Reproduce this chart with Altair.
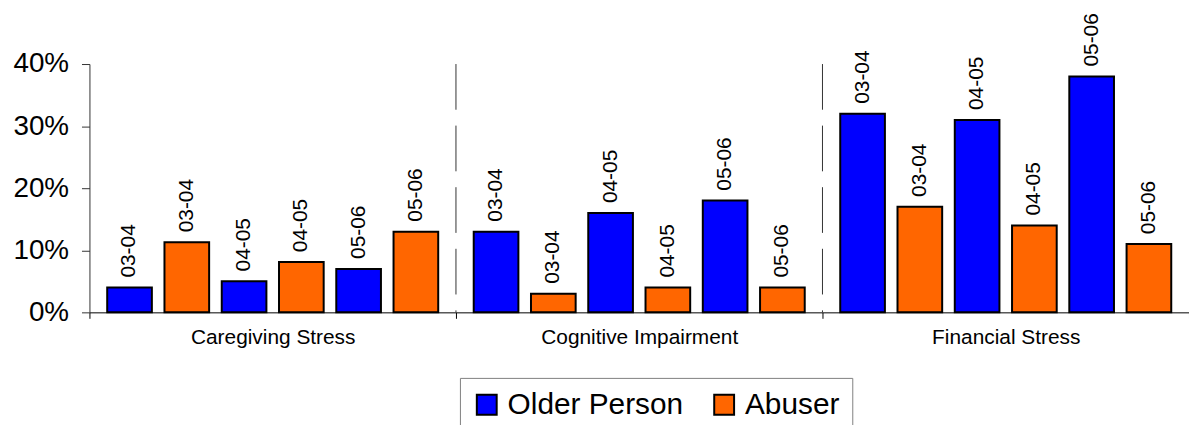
import altair as alt
import pandas as pd

groups = ["Caregiving Stress", "Cognitive Impairment", "Financial Stress"]
years = ["03-04", "04-05", "05-06"]
series = ["Older Person", "Abuser"]
colors = ["#0000FF", "#FF6600"]

older_person = [[4, 5, 7], [13, 16, 18], [32, 31, 38]]
abuser = [[11.3, 8.1, 13], [3, 4, 4], [17, 14, 11]]

rows = []
for gi, g in enumerate(groups):
    for yi, yr in enumerate(years):
        rows.append({"group": g, "slot": 2 * yi, "series": series[0], "year": yr, "value": older_person[gi][yi]})
        rows.append({"group": g, "slot": 2 * yi + 1, "series": series[1], "year": yr, "value": abuser[gi][yi]})
df = pd.DataFrame(rows)
sep = pd.DataFrame({"group": groups[1:]})

FONT = "Liberation Sans"
W, H = 1107, 250

x_axis = alt.Axis(title=None, labelAngle=0, labelFontSize=21, labelFont=FONT, labelColor="black",
                  labelLimit=0, tickBand="extent", tickSize=6, tickColor="black", domainColor="black",
                  labelPadding=8)
x_scale = alt.Scale(paddingInner=0, paddingOuter=0)
x_enc = alt.X("group:N", sort=groups, scale=x_scale, axis=x_axis)
xo_enc = alt.XOffset("slot:O", scale=alt.Scale(paddingInner=0.22, paddingOuter=0.31))
y_enc = alt.Y("value:Q", scale=alt.Scale(domain=[0, 40]),
              axis=alt.Axis(title=None, values=[0, 10, 20, 30, 40], labelExpr="datum.value + '%'",
                            labelFontSize=28, labelFont=FONT, labelColor="black", grid=False,
                            tickSize=8, tickColor="#333333", domainColor="#333333", labelPadding=13))

bars = alt.Chart(df).mark_bar(stroke="black", strokeWidth=2).encode(
    x=x_enc, xOffset=xo_enc, y=y_enc,
    color=alt.Color("series:N", sort=series, scale=alt.Scale(domain=series, range=colors),
                    legend=alt.Legend(title=None, orient="none", legendX=373, legendY=316,
                                      direction="horizontal", symbolType="square", symbolSize=400,
                                      symbolStrokeColor="black", symbolStrokeWidth=2,
                                      labelFontSize=30, labelFont=FONT, labelColor="black",
                                      labelLimit=0, labelOffset=6, columnPadding=26, padding=12,
                                      strokeColor="#808080", fillColor="white")),
)

labels = alt.Chart(df).mark_text(angle=270, align="left", baseline="middle", dx=10,
                                  fontSize=21, font=FONT, color="black").encode(
    x=x_enc, xOffset=xo_enc, y=y_enc, text="year:N")

rules = alt.Chart(sep).mark_rule(strokeDash=[46, 16], color="#333333", strokeWidth=1).encode(
    x=alt.X("group:N", sort=groups, scale=x_scale, axis=x_axis, bandPosition=0),
    y=alt.value(0), y2=alt.value(H))

chart = alt.layer(rules, bars, labels).properties(
    width=W, height=H,
    autosize=alt.AutoSizeParams(type="none"),
    padding={"left": 82, "top": 55, "right": 0, "bottom": 112},
).configure_view(stroke=None)

chart.save("out.html", embed_options={"renderer": "svg", "actions": False})
